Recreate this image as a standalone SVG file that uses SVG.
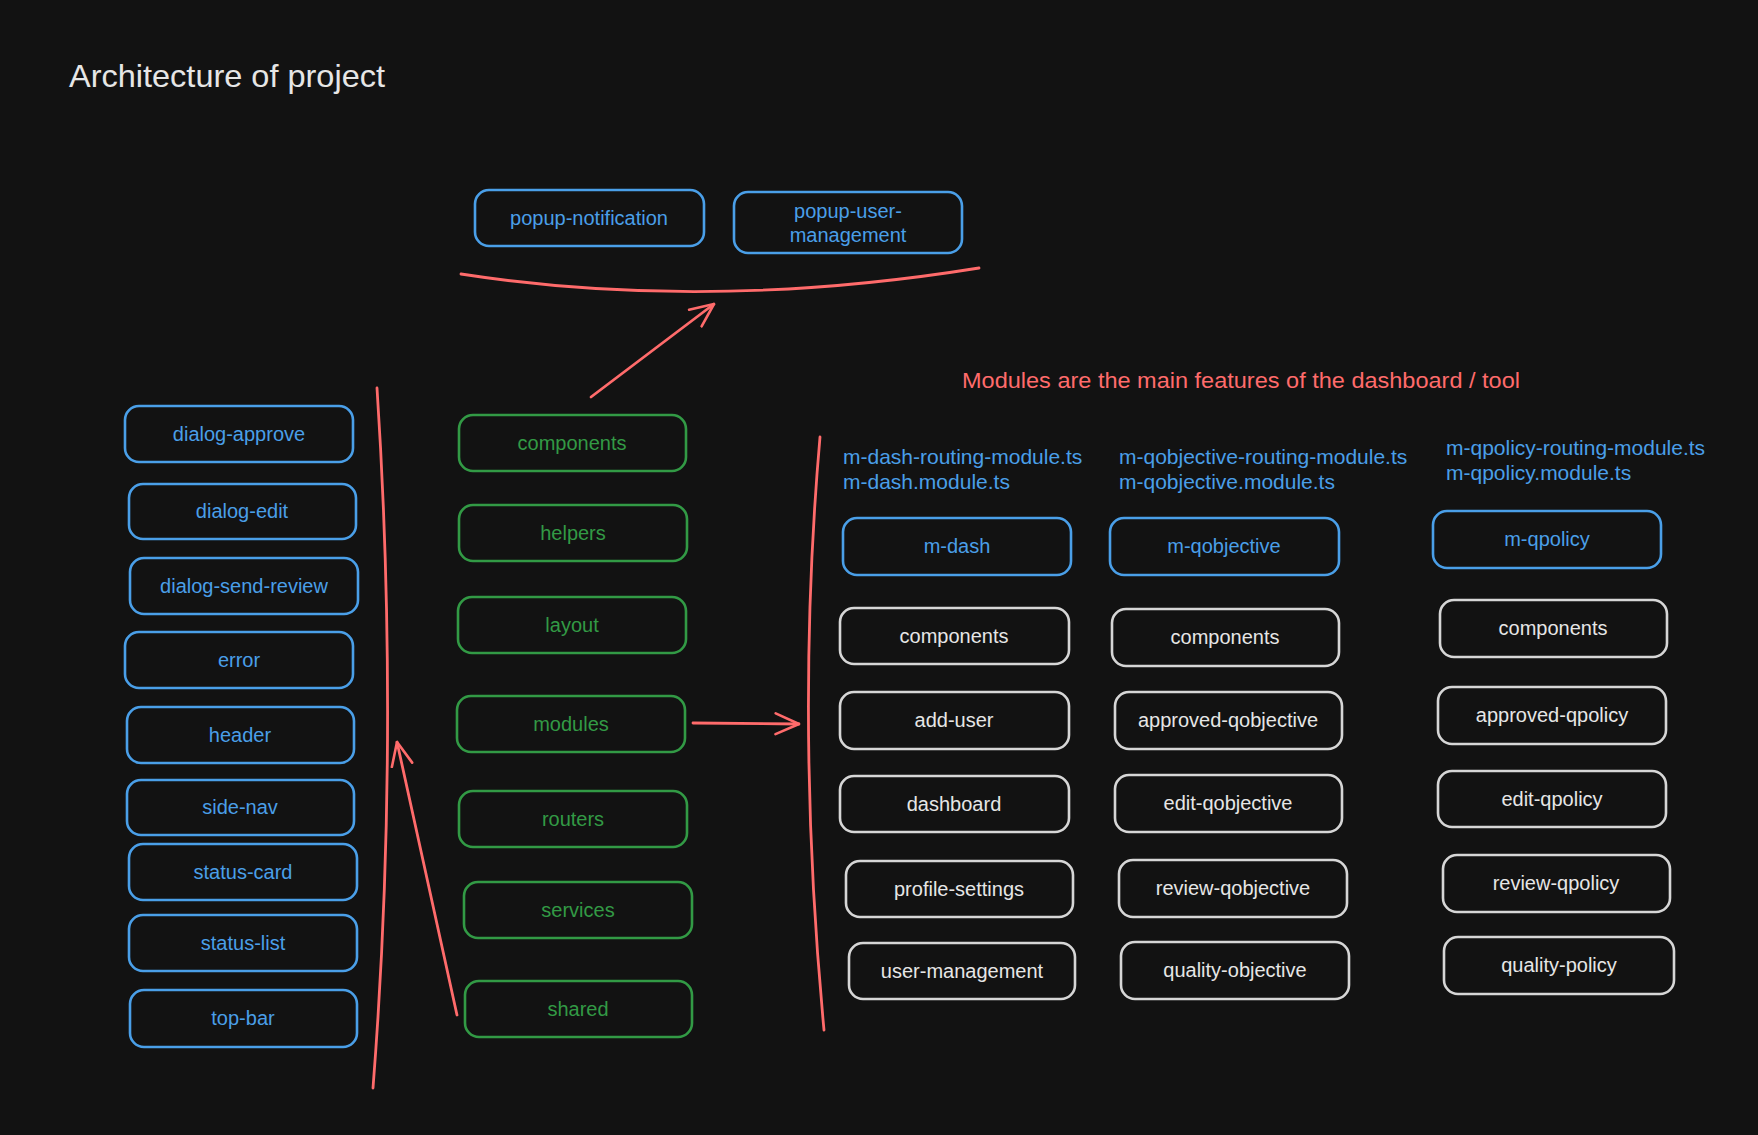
<svg xmlns="http://www.w3.org/2000/svg" width="1758" height="1135" viewBox="0 0 1758 1135">
<defs>
<marker id="arr" viewBox="0 0 20 20" refX="19" refY="10" markerWidth="26" markerHeight="26" markerUnits="userSpaceOnUse" orient="auto">
<path d="M1,2 L19,10 L1,18" fill="none" stroke="#ff6b6b" stroke-width="2" stroke-linecap="round" stroke-linejoin="round"/>
</marker>
</defs>
<style>
text{font-family:"Liberation Sans","Noto Sans",Arial,sans-serif;font-size:20px;text-anchor:middle;dominant-baseline:central}
.box{fill:none;stroke-width:2.6}
.b{stroke:#4a9fe8}
.g{stroke:#329a45}
.w{stroke:#d6d6d6}
.tb{fill:#4a9fe8}
.tg{fill:#329a45}
.tw{fill:#e6e6e6}
.fl{font-size:21px;text-anchor:start}
.red{fill:none;stroke:#ff6b6b;stroke-width:2.8;stroke-linecap:round}
</style>
<rect x="0" y="0" width="1758" height="1135" fill="#121212"/>

<text x="69" y="76" class="tw" style="font-size:32px;text-anchor:start" textLength="316" lengthAdjust="spacingAndGlyphs">Architecture of project</text>
<text x="962" y="380" style="fill:#ff6b6b;text-anchor:start;font-size:22px" textLength="558" lengthAdjust="spacingAndGlyphs">Modules are the main features of the dashboard / tool</text>

<g id="connectors">
<path class="red" d="M461,274 Q706,312 979,268"/>
<path class="red" d="M377,388 Q400,740 373,1088"/>
<path class="red" d="M820,437 Q795,723 824,1030"/>
<path class="red" d="M591,397 L714,304" marker-end="url(#arr)"/>
<path class="red" d="M693,723 L799,724" marker-end="url(#arr)"/>
<path class="red" d="M457,1015 L397,742" marker-end="url(#arr)"/>
</g>

<g id="popup-notification"><rect class="box b" x="475" y="190" width="229" height="56" rx="14"/><text class="tb" x="589" y="218">popup-notification</text></g>
<g id="popup-user-management"><rect class="box b" x="734" y="192" width="228" height="61" rx="14"/><text class="tb" x="848" y="211">popup-user-</text><text class="tb" x="848" y="235">management</text></g>

<g id="dialog-approve"><rect class="box b" x="125" y="406" width="228" height="56" rx="14"/><text class="tb" x="239" y="434">dialog-approve</text></g>
<g id="dialog-edit"><rect class="box b" x="129" y="484" width="227" height="55" rx="14"/><text class="tb" x="242" y="511">dialog-edit</text></g>
<g id="dialog-send-review"><rect class="box b" x="130" y="558" width="228" height="56" rx="14"/><text class="tb" x="244" y="586">dialog-send-review</text></g>
<g id="error"><rect class="box b" x="125" y="632" width="228" height="56" rx="14"/><text class="tb" x="239" y="660">error</text></g>
<g id="header"><rect class="box b" x="127" y="707" width="227" height="56" rx="14"/><text class="tb" x="240" y="735">header</text></g>
<g id="side-nav"><rect class="box b" x="127" y="780" width="227" height="55" rx="14"/><text class="tb" x="240" y="807">side-nav</text></g>
<g id="status-card"><rect class="box b" x="129" y="844" width="228" height="56" rx="14"/><text class="tb" x="243" y="872">status-card</text></g>
<g id="status-list"><rect class="box b" x="129" y="915" width="228" height="56" rx="14"/><text class="tb" x="243" y="943">status-list</text></g>
<g id="top-bar"><rect class="box b" x="130" y="990" width="227" height="57" rx="14"/><text class="tb" x="243" y="1018">top-bar</text></g>

<g id="g-components"><rect class="box g" x="459" y="415" width="227" height="56" rx="14"/><text class="tg" x="572" y="443">components</text></g>
<g id="helpers"><rect class="box g" x="459" y="505" width="228" height="56" rx="14"/><text class="tg" x="573" y="533">helpers</text></g>
<g id="layout"><rect class="box g" x="458" y="597" width="228" height="56" rx="14"/><text class="tg" x="572" y="625">layout</text></g>
<g id="modules"><rect class="box g" x="457" y="696" width="228" height="56" rx="14"/><text class="tg" x="571" y="724">modules</text></g>
<g id="routers"><rect class="box g" x="459" y="791" width="228" height="56" rx="14"/><text class="tg" x="573" y="819">routers</text></g>
<g id="services"><rect class="box g" x="464" y="882" width="228" height="56" rx="14"/><text class="tg" x="578" y="910">services</text></g>
<g id="shared"><rect class="box g" x="465" y="981" width="227" height="56" rx="14"/><text class="tg" x="578" y="1009">shared</text></g>

<g id="m-dash-files"><text class="tb fl" x="843" y="456">m-dash-routing-module.ts</text><text class="tb fl" x="843" y="481">m-dash.module.ts</text></g>
<g id="m-qobjective-files"><text class="tb fl" x="1119" y="456">m-qobjective-routing-module.ts</text><text class="tb fl" x="1119" y="481">m-qobjective.module.ts</text></g>
<g id="m-qpolicy-files"><text class="tb fl" x="1446" y="447">m-qpolicy-routing-module.ts</text><text class="tb fl" x="1446" y="472">m-qpolicy.module.ts</text></g>

<g id="m-dash"><rect class="box b" x="843" y="518" width="228" height="57" rx="14"/><text class="tb" x="957" y="546">m-dash</text></g>
<g id="m-qobjective"><rect class="box b" x="1110" y="518" width="229" height="57" rx="14"/><text class="tb" x="1224" y="546">m-qobjective</text></g>
<g id="m-qpolicy"><rect class="box b" x="1433" y="511" width="228" height="57" rx="14"/><text class="tb" x="1547" y="539">m-qpolicy</text></g>

<g id="d-components"><rect class="box w" x="840" y="608" width="229" height="56" rx="14"/><text class="tw" x="954" y="636">components</text></g>
<g id="add-user"><rect class="box w" x="840" y="692" width="229" height="57" rx="14"/><text class="tw" x="954" y="720">add-user</text></g>
<g id="dashboard"><rect class="box w" x="840" y="776" width="229" height="56" rx="14"/><text class="tw" x="954" y="804">dashboard</text></g>
<g id="profile-settings"><rect class="box w" x="846" y="861" width="227" height="56" rx="14"/><text class="tw" x="959" y="889">profile-settings</text></g>
<g id="user-management"><rect class="box w" x="849" y="943" width="226" height="56" rx="14"/><text class="tw" x="962" y="971">user-management</text></g>

<g id="o-components"><rect class="box w" x="1112" y="609" width="227" height="57" rx="14"/><text class="tw" x="1225" y="637">components</text></g>
<g id="approved-qobjective"><rect class="box w" x="1115" y="692" width="227" height="57" rx="14"/><text class="tw" x="1228" y="720">approved-qobjective</text></g>
<g id="edit-qobjective"><rect class="box w" x="1115" y="775" width="227" height="57" rx="14"/><text class="tw" x="1228" y="803">edit-qobjective</text></g>
<g id="review-qobjective"><rect class="box w" x="1119" y="860" width="228" height="57" rx="14"/><text class="tw" x="1233" y="888">review-qobjective</text></g>
<g id="quality-objective"><rect class="box w" x="1121" y="942" width="228" height="57" rx="14"/><text class="tw" x="1235" y="970">quality-objective</text></g>

<g id="p-components"><rect class="box w" x="1440" y="600" width="227" height="57" rx="14"/><text class="tw" x="1553" y="628">components</text></g>
<g id="approved-qpolicy"><rect class="box w" x="1438" y="687" width="228" height="57" rx="14"/><text class="tw" x="1552" y="715">approved-qpolicy</text></g>
<g id="edit-qpolicy"><rect class="box w" x="1438" y="771" width="228" height="56" rx="14"/><text class="tw" x="1552" y="799">edit-qpolicy</text></g>
<g id="review-qpolicy"><rect class="box w" x="1443" y="855" width="227" height="57" rx="14"/><text class="tw" x="1556" y="883">review-qpolicy</text></g>
<g id="quality-policy"><rect class="box w" x="1444" y="937" width="230" height="57" rx="14"/><text class="tw" x="1559" y="965">quality-policy</text></g>
</svg>
